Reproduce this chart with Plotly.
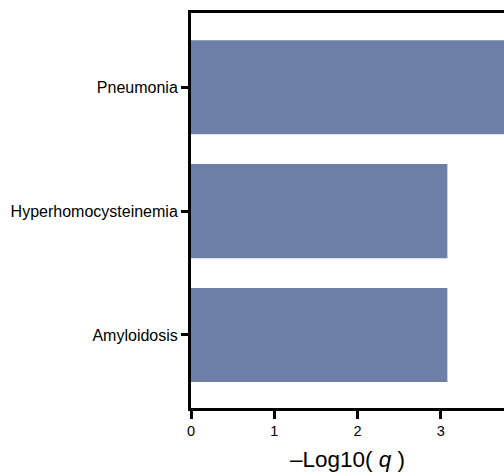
import plotly.graph_objects as go

categories = ["Amyloidosis", "Hyperhomocysteinemia", "Pneumonia"]
values = [3.08, 3.08, 4.4]
x_ticks = [0, 1, 2, 3]

fig = go.Figure(go.Bar(
    x=values, y=categories, orientation="h",
    marker=dict(color="#6d7fa7", line=dict(width=0)),
    width=0.76,
))

fig.update_layout(
    width=504, height=476,
    margin=dict(l=191, r=0, t=13, b=68),
    paper_bgcolor="white", plot_bgcolor="white",
    font=dict(family="Liberation Sans, Arial", size=12, color="black"),
    showlegend=False,
)
fig.update_xaxes(
    range=[0, 3.76], tickvals=x_ticks, showgrid=False, zeroline=False,
    showline=True, linecolor="black", linewidth=3, mirror=True,
    ticks="outside", ticklen=8, tickwidth=3, tickcolor="black",
    tickfont=dict(size=14.5),
    title=dict(text="\u2013Log10( <i>q</i> )", font=dict(size=22.5), standoff=13),
)
fig.update_yaxes(
    range=[-0.59, 2.6], showgrid=False, zeroline=False,
    showline=True, linecolor="black", linewidth=3,
    ticks="outside", ticklen=7, tickwidth=3, tickcolor="black",
    tickfont=dict(size=16),
)
fig.write_html("out.html", config={"displayModeBar": False},
               post_script="document.body.style.margin='0';document.body.style.overflow='hidden';")
